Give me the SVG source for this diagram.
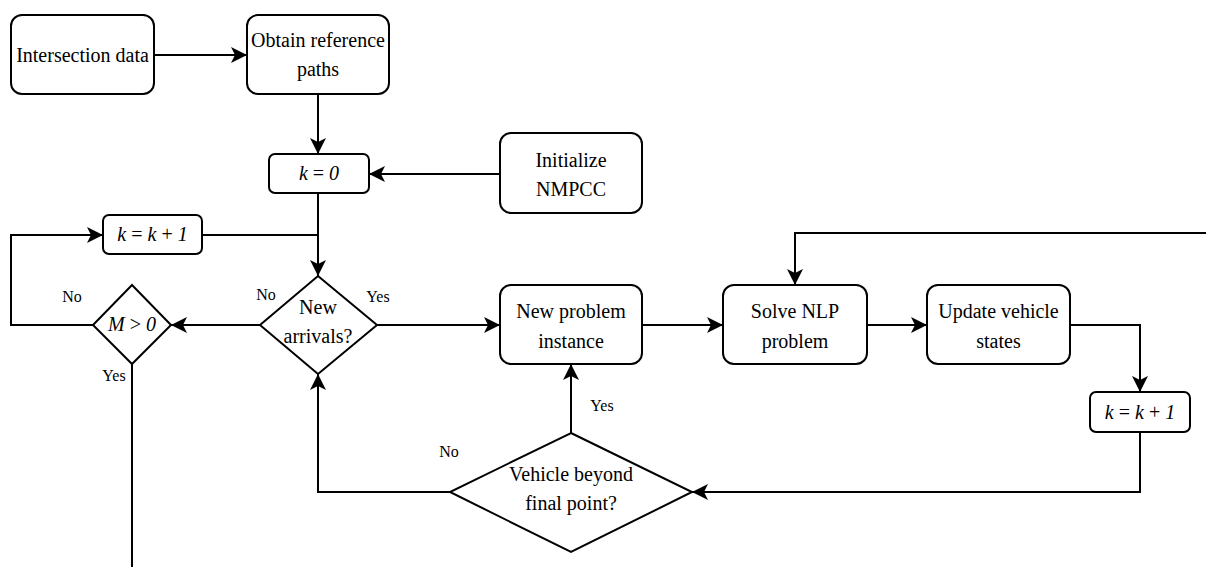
<svg xmlns="http://www.w3.org/2000/svg" width="1206" height="567" viewBox="0 0 1206 567">
<style>
.box{fill:#fff;stroke:#000;stroke-width:2}
.t{font-family:"Liberation Serif","Times New Roman",serif;font-size:20px;fill:#000;text-anchor:middle}
.i{font-style:italic}
.l{font-family:"Liberation Serif","Times New Roman",serif;font-size:16px;fill:#000;text-anchor:middle}
.c{fill:none;stroke:#000;stroke-width:2}
</style>
<defs>
<marker id="a" viewBox="0 0 16 16" refX="16" refY="8" markerWidth="16" markerHeight="16" markerUnits="userSpaceOnUse" orient="auto">
<path d="M0,0 L16,8 L0,16 L4,8 Z" fill="#000"/>
</marker>
</defs>
<g id="connectors">
<path class="c" d="M154,55 H247" marker-end="url(#a)"/>
<path class="c" d="M318,94 V154" marker-end="url(#a)"/>
<path class="c" d="M500,174 H369" marker-end="url(#a)"/>
<path class="c" d="M318,193 V276" marker-end="url(#a)"/>
<path class="c" d="M202,235 H317"/>
<path class="c" d="M260,325 H171" marker-end="url(#a)"/>
<path class="c" d="M93,325 H11 V235 H103" marker-end="url(#a)"/>
<path class="c" d="M132,364 V567"/>
<path class="c" d="M377,325 H500" marker-end="url(#a)"/>
<path class="c" d="M642,325 H723" marker-end="url(#a)"/>
<path class="c" d="M867,325 H927" marker-end="url(#a)"/>
<path class="c" d="M1070,325 H1140 V392" marker-end="url(#a)"/>
<path class="c" d="M1140,432 V492 H692" marker-end="url(#a)"/>
<path class="c" d="M571,433 V364" marker-end="url(#a)"/>
<path class="c" d="M450,492 H318 V374" marker-end="url(#a)"/>
<path class="c" d="M1206,233 H795 V285" marker-end="url(#a)"/>
<text class="l" x="72" y="302">No</text>
<text class="l" x="114" y="381">Yes</text>
<text class="l" x="266" y="300">No</text>
<text class="l" x="378" y="302">Yes</text>
<text class="l" x="602" y="411">Yes</text>
<text class="l" x="449" y="457">No</text>
</g>
<g id="intersection-data">
<rect class="box" x="11" y="15" width="143" height="79" rx="11"/>
<text class="t" x="82.5" y="62">Intersection data</text>
</g>
<g id="obtain-reference-paths">
<rect class="box" x="247" y="15" width="142" height="79" rx="11"/>
<text class="t" x="318" y="47">Obtain reference</text>
<text class="t" x="318" y="76">paths</text>
</g>
<g id="k0">
<rect class="box" x="269" y="154" width="100" height="39" rx="6"/>
<text class="t" x="319" y="180"><tspan class="i">k</tspan> = <tspan class="i">0</tspan></text>
</g>
<g id="initialize-nmpcc">
<rect class="box" x="500" y="133" width="142" height="80" rx="11"/>
<text class="t" x="571" y="167">Initialize</text>
<text class="t" x="571" y="196">NMPCC</text>
</g>
<g id="k-inc-left">
<rect class="box" x="103" y="215" width="99" height="39" rx="6"/>
<text class="t" x="152.5" y="241"><tspan class="i">k</tspan> = <tspan class="i">k</tspan> + <tspan class="i">1</tspan></text>
</g>
<g id="new-arrivals">
<polygon class="box" points="318,276 377,325 318,374 260,325"/>
<text class="t" x="318" y="314">New</text>
<text class="t" x="318" y="343">arrivals?</text>
</g>
<g id="m-gt-0">
<polygon class="box" points="132,285 171,325 132,364 93,325"/>
<text class="t" x="132" y="331"><tspan class="i">M</tspan> &gt; <tspan class="i">0</tspan></text>
</g>
<g id="new-problem-instance">
<rect class="box" x="500" y="285" width="142" height="79" rx="11"/>
<text class="t" x="571" y="318">New problem</text>
<text class="t" x="571" y="348">instance</text>
</g>
<g id="solve-nlp">
<rect class="box" x="723" y="285" width="144" height="79" rx="11"/>
<text class="t" x="795" y="318">Solve NLP</text>
<text class="t" x="795" y="348">problem</text>
</g>
<g id="update-vehicle-states">
<rect class="box" x="927" y="285" width="143" height="79" rx="11"/>
<text class="t" x="998.5" y="318">Update vehicle</text>
<text class="t" x="998.5" y="348">states</text>
</g>
<g id="k-inc-right">
<rect class="box" x="1090" y="392" width="100" height="40" rx="6"/>
<text class="t" x="1140" y="419"><tspan class="i">k</tspan> = <tspan class="i">k</tspan> + <tspan class="i">1</tspan></text>
</g>
<g id="vehicle-beyond">
<polygon class="box" points="571,433 692,492 571,552 450,492"/>
<text class="t" x="571" y="481">Vehicle beyond</text>
<text class="t" x="571" y="510">final point?</text>
</g>
</svg>
